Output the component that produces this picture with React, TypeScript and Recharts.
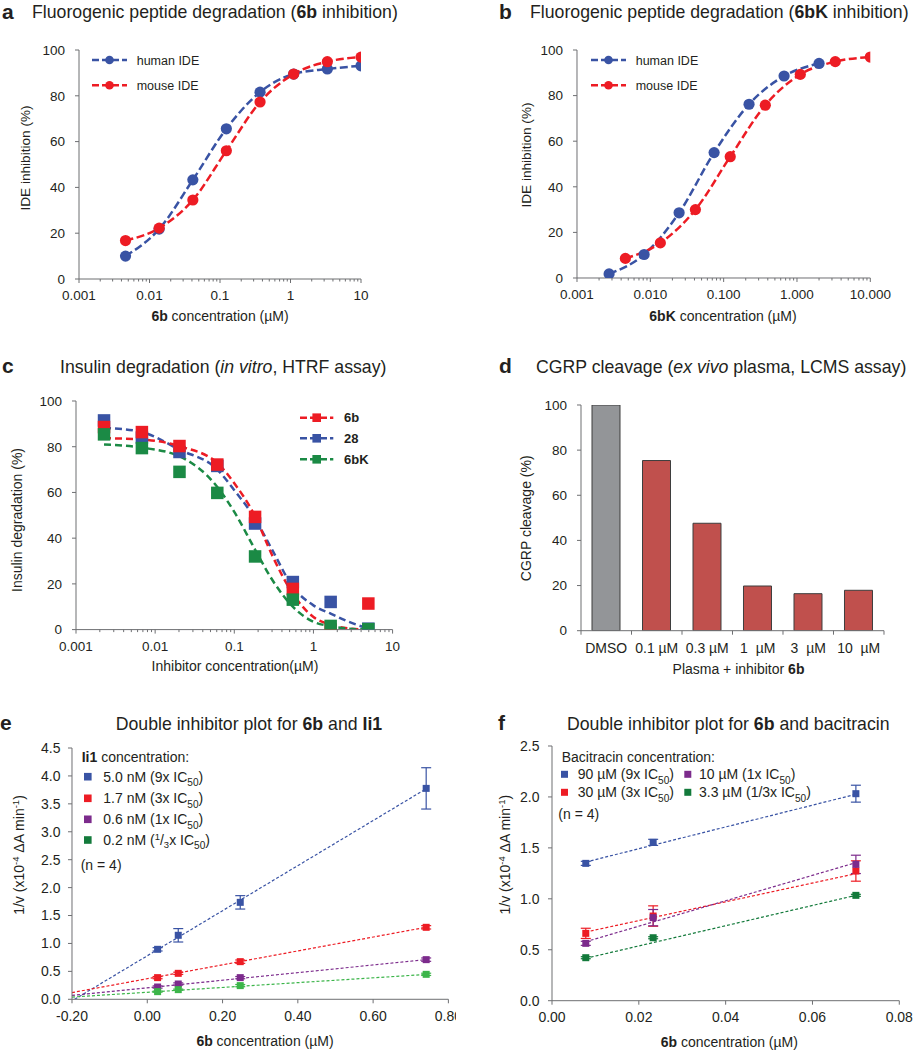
import React from 'react';
import { ComposedChart, BarChart, Bar, Line, Scatter, XAxis, YAxis, ErrorBar, Cell } from 'recharts';

const FONT = "'Liberation Sans', Arial, Helvetica, sans-serif";
const TEXT = '#231f20';
const AXIS = '#6d6e71';
const BLUE = '#3953a4';
const RED = '#ed1c24';
const GREEN = '#1b8a45';
const PURPLE = '#7c2b8c';
const BRIGHT_GREEN = '#3cb54a';
const DARK_GREEN = '#137a3b';
const BAR_GRAY = '#939598';
const BAR_RED = '#c0504d';
const BAR_EDGE = '#3d3d3d';

// ---------- Panel a: 6b inhibition of fluorogenic peptide degradation
const A_CONC = [0.00457, 0.0137, 0.0412, 0.123, 0.37, 1.11, 3.33, 10];
const A_HUMAN = [10, 21.8, 43.3, 65.6, 81.6, 89.5, 91.7, 93.1];
const A_MOUSE = [16.8, 22.2, 34.5, 56, 77.3, 89.5, 94.9, 96.9];

// ---------- Panel b: 6bK inhibition
const B_HUMAN_CONC = [0.00274, 0.00823, 0.0247, 0.0741, 0.222, 0.667, 2.0];
const B_HUMAN = [1.8, 10.3, 28.6, 55, 76.2, 88.6, 94.1];
const B_MOUSE_CONC = [0.00457, 0.0137, 0.0412, 0.123, 0.37, 1.11, 3.33, 10];
const B_MOUSE = [8.6, 15.4, 30, 53.2, 75.8, 89.3, 94.9, 96.9];

// ---------- Panel c: insulin degradation
const C_CONC = [0.00226, 0.0068, 0.0203, 0.061, 0.183, 0.549, 1.65, 4.94];
const C_6B = [88.6, 86.4, 80.3, 72.2, 49.3, 17.8, 0, 11.4];
const C_28 = [91.5, 84, 77.7, 71.6, 46.4, 20.8, 12.1, 0.4];
const C_6BK = [85.4, 79.4, 69, 59.8, 32, 13.1, 1.6, 0.2];
const C_FIT_CONC = [0.00226, 0.0068, 0.0203, 0.061, 0.1, 0.183, 0.3, 0.549, 1, 1.65, 2.8, 4.94];
const C_FIT_6B = [83.7, 83.2, 80.2, 72.9, 64, 49.6, 32.6, 15.7, 5.5, 2.2, 0.5, 0];
const C_FIT_28 = [88.3, 86.4, 78.7, 70, 61, 48.5, 35, 18.7, 10.6, 7, 3.4, 0.4];
const C_FIT_6BK = [81, 79.6, 75.8, 62.4, 51.5, 35, 21.9, 10, 3.4, 1.5, 0.4, 0];

// ---------- Panel d: CGRP cleavage
const D_CATEGORIES = ['DMSO', '0.1 µM', '0.3 µM', '1\u00a0\u00a0µM', '3\u00a0\u00a0µM', '10\u00a0\u00a0µM'];
const D_VALUES = [100, 75.4, 47.6, 19.8, 16.4, 17.9];

// ---------- Panel e: 6b + Ii1
const E_CONC = [0.0274, 0.0823, 0.247, 0.741];
const E_BLUE = [0.895, 1.146, 1.736, 3.777];
const E_BLUE_ERR = [0.03, 0.12, 0.12, 0.37];
const E_RED = [0.388, 0.465, 0.674, 1.289];
const E_RED_ERR = [0.02, 0.02, 0.03, 0.03];
const E_PURPLE = [0.22, 0.274, 0.388, 0.71];
const E_PURPLE_ERR = [0.02, 0.02, 0.02, 0.03];
const E_GREEN = [0.137, 0.173, 0.245, 0.447];
const E_GREEN_ERR = [0.01, 0.01, 0.02, 0.02];
const E_FIT_BLUE_X = [-0.193, 0.741];
const E_FIT_BLUE_Y = [0.0, 3.77];
const E_FIT_X = [-0.2, 0.741];
const E_FIT_RED_Y = [0.12, 1.29];
const E_FIT_PURPLE_Y = [0.07, 0.71];
const E_FIT_GREEN_Y = [0.04, 0.445];
const E_XTICKS = [-0.2, 0, 0.2, 0.4, 0.6, 0.8];
const E_YTICKS = [0, 0.5, 1, 1.5, 2, 2.5, 3, 3.5, 4, 4.5];

// ---------- Panel f: 6b + bacitracin
const F_CONC = [0.00778, 0.0233, 0.07];
const F_BLUE = [1.348, 1.554, 2.032];
const F_BLUE_ERR = [0.02, 0.03, 0.083];
const F_RED = [0.661, 0.831, 1.273];
const F_RED_ERR = [0.05, 0.1, 0.1];
const F_PURPLE = [0.563, 0.815, 1.338];
const F_PURPLE_ERR = [0.02, 0.08, 0.09];
const F_GREEN = [0.422, 0.618, 1.034];
const F_GREEN_ERR = [0.01, 0.01, 0.01];
const F_FIT_X = [0.00778, 0.07];
const F_FIT_BLUE = [1.361, 2.026];
const F_FIT_RED = [0.674, 1.247];
const F_FIT_PURPLE = [0.579, 1.355];
const F_FIT_GREEN = [0.416, 1.034];
const F_XTICKS = [0, 0.02, 0.04, 0.06, 0.08];
const F_YTICKS = [0, 0.5, 1, 1.5, 2, 2.5];

const PCT_TICKS = [0, 20, 40, 60, 80, 100];
const LOG_DECADES = [-3, -2, -1, 0];
const LOG_MULTS = [1, 2, 3, 4, 5, 6, 7, 8, 9];
const LOG_TICKS: number[] = [];
LOG_DECADES.forEach((d) => LOG_MULTS.forEach((m) => LOG_TICKS.push(Number((m * Math.pow(10, d)).toPrecision(6)))));
LOG_TICKS.push(10);

const pts = (xs: number[], ys: number[], errs?: number[]) =>
  xs.map((x, i) => ({ x, y: ys[i], err: errs ? errs[i] : 0 }));

const isDecade = (v: number) => Math.abs(Math.log10(v) - Math.round(Math.log10(v))) < 1e-6;

// ---------- geometry helpers
type Geo = { x0: number; y0: number; x1: number; y1: number; right: number };
const YW = 50;
const XH = 44;
const MT = 14;
const dims = (g: Geo) => ({
  left: g.x0 - YW,
  top: g.y0 - MT,
  width: g.x1 + g.right - (g.x0 - YW),
  height: g.y1 + XH - (g.y0 - MT),
  margin: { top: MT, right: g.right, bottom: 0, left: 0 },
});

const A_GEO: Geo = { x0: 79, y0: 50, x1: 361, y1: 279, right: 30 };
const B_GEO: Geo = { x0: 576.7, y0: 50, x1: 870, y1: 278, right: 35 };
const C_GEO: Geo = { x0: 75.7, y0: 400.7, x1: 392.3, y1: 629.3, right: 30 };
const D_GEO: Geo = { x0: 580.7, y0: 405.3, x1: 883.7, y1: 631, right: 25 };
const E_GEO: Geo = { x0: 72.3, y0: 748, x1: 448.7, y1: 999.3, right: 7.3 };
const F_GEO: Geo = { x0: 552, y0: 746, x1: 899.3, y1: 1000.7, right: 13.7 };

const makeXTick = (
  fmt: (v: number) => string,
  fontSize: number,
  labelDy: number,
  isMajor: (v: number) => boolean = () => true,
  majorLen = 4,
  minorLen = 2.5
) => (props: any) => {
  const { x, y, payload } = props;
  const v = payload.value;
  const major = isMajor(v);
  return (
    <g>
      <line x1={x} x2={x} y1={y} y2={y + (major ? majorLen : minorLen)} stroke={AXIS} strokeWidth={1} />
      {major && (
        <text x={x} y={y + labelDy} textAnchor="middle" fontSize={fontSize} fill={TEXT} fontFamily={FONT}>
          {fmt(v)}
        </text>
      )}
    </g>
  );
};

const square = (size: number, color: string) => (p: any) => {
  const cx = p.cx ?? (p.x ?? 0) + (p.width ?? 0) / 2;
  const cy = p.cy ?? (p.y ?? 0) + (p.height ?? 0) / 2;
  return <rect x={cx - size / 2} y={cy - size / 2} width={size} height={size} fill={color} />;
};

const yAxisProps = (fontSize: number, margin: number) => ({
  type: 'number' as const,
  width: YW,
  tickSize: 4,
  tickMargin: margin,
  interval: 0 as const,
  allowDataOverflow: true,
  axisLine: { stroke: AXIS },
  tickLine: { stroke: AXIS },
  tick: { fontSize, fill: TEXT, fontFamily: FONT },
});

const xAxisBase = {
  dataKey: 'x',
  type: 'number' as const,
  interval: 0 as const,
  allowDataOverflow: true,
  height: XH,
  tickLine: false,
  tickSize: 0,
  tickMargin: 0,
  axisLine: { stroke: AXIS },
};

// ---------- panels
function DoseCirclePanel({ geo, human, mouse, fmt }: any) {
  const d = dims(geo);
  return (
    <div style={{ position: 'absolute', left: d.left, top: d.top }}>
      <ComposedChart width={d.width} height={d.height} margin={d.margin}>
        <XAxis {...xAxisBase} scale="log" domain={[0.001, 10]} ticks={LOG_TICKS} tick={makeXTick(fmt, 13.5, 20.9, isDecade)} />
        <YAxis {...yAxisProps(13.5, 10)} domain={[0, 100]} ticks={PCT_TICKS} />
        <Line data={human} dataKey="y" type="monotone" stroke={BLUE} strokeWidth={2.5} strokeDasharray="8 3.5"
          dot={{ r: 5.6, fill: BLUE, stroke: 'none' }} activeDot={false} isAnimationActive={false} />
        <Line data={mouse} dataKey="y" type="monotone" stroke={RED} strokeWidth={2.5} strokeDasharray="8 3.5"
          dot={{ r: 5.6, fill: RED, stroke: 'none' }} activeDot={false} isAnimationActive={false} />
      </ComposedChart>
    </div>
  );
}

function PanelC() {
  const d = dims(C_GEO);
  const series = [
    { fit: C_FIT_28, pts: C_28, color: BLUE },
    { fit: C_FIT_6B, pts: C_6B, color: RED },
    { fit: C_FIT_6BK, pts: C_6BK, color: GREEN },
  ];
  return (
    <div style={{ position: 'absolute', left: d.left, top: d.top }}>
      <ComposedChart width={d.width} height={d.height} margin={d.margin}>
        <XAxis {...xAxisBase} scale="log" domain={[0.001, 10]} ticks={LOG_TICKS}
          tick={makeXTick((v) => String(v), 13.5, 21.2, isDecade)} />
        <YAxis {...yAxisProps(13.5, 10)} domain={[0, 100]} ticks={PCT_TICKS} />
        {series.map((s, i) => (
          <Line key={'l' + i} data={pts(C_FIT_CONC, s.fit)} dataKey="y" type="monotone" stroke={s.color}
            strokeWidth={2.5} strokeDasharray="7 4" dot={false} activeDot={false} isAnimationActive={false} />
        ))}
        {series.map((s, i) => (
          <Scatter key={'s' + i} data={pts(C_CONC, s.pts)} dataKey="y" fill={s.color}
            shape={square(12.5, s.color)} isAnimationActive={false} />
        ))}
      </ComposedChart>
    </div>
  );
}

function PanelD() {
  const d = dims(D_GEO);
  const data = D_CATEGORIES.map((name, i) => ({ name, v: D_VALUES[i] }));
  const band = (D_GEO.x1 - D_GEO.x0) / D_CATEGORIES.length;
  const tick = (props: any) => {
    const { x, y, payload, index } = props;
    return (
      <g>
        <line x1={x - band / 2} x2={x - band / 2} y1={y} y2={y + 4} stroke={AXIS} />
        {index === D_CATEGORIES.length - 1 && <line x1={x + band / 2} x2={x + band / 2} y1={y} y2={y + 4} stroke={AXIS} />}
        <text x={x} y={y + 21.9} textAnchor="middle" fontSize={14} fill={TEXT} fontFamily={FONT}>
          {payload.value}
        </text>
      </g>
    );
  };
  return (
    <div style={{ position: 'absolute', left: d.left, top: d.top }}>
      <BarChart width={d.width} height={d.height} margin={d.margin} data={data}>
        <XAxis dataKey="name" type="category" interval={0} height={XH} tickLine={false} tickSize={0} tickMargin={0}
          axisLine={{ stroke: AXIS }} tick={tick} />
        <YAxis {...yAxisProps(13.5, 10)} domain={[0, 100]} ticks={PCT_TICKS} />
        <Bar dataKey="v" barSize={28} stroke={BAR_EDGE} strokeWidth={1} isAnimationActive={false}>
          {data.map((_, i) => (
            <Cell key={i} fill={i === 0 ? BAR_GRAY : BAR_RED} />
          ))}
        </Bar>
      </BarChart>
    </div>
  );
}

function InhibitorPanel({ geo, xDomain, xTicks, yDomain, yTicks, yMargin, series, markerSize }: any) {
  const d = dims(geo);
  return (
    <div style={{ position: 'absolute', left: d.left, top: d.top }}>
      <ComposedChart width={d.width} height={d.height} margin={d.margin}>
        <XAxis {...xAxisBase} domain={xDomain} ticks={xTicks} tick={makeXTick((v) => v.toFixed(2), 14, 21.6)} />
        <YAxis {...yAxisProps(14, yMargin)} domain={yDomain} ticks={yTicks} tickFormatter={(v: number) => v.toFixed(1)} />
        {series.map((s: any, i: number) => (
          <Line key={'l' + i} data={s.fit} dataKey="y" type="linear" stroke={s.lineColor} strokeWidth={1.2}
            strokeDasharray="3 2" dot={false} activeDot={false} isAnimationActive={false} />
        ))}
        {series.map((s: any, i: number) => (
          <Scatter key={'s' + i} data={s.points} dataKey="y" fill={s.color} shape={square(markerSize, s.color)}
            isAnimationActive={false}>
            <ErrorBar dataKey="err" direction="y" width={5} stroke={s.color} strokeWidth={1.2} />
          </Scatter>
        ))}
      </ComposedChart>
    </div>
  );
}

const E_SERIES = [
  { points: pts(E_CONC, E_BLUE, E_BLUE_ERR), fit: pts(E_FIT_BLUE_X, E_FIT_BLUE_Y), color: BLUE, lineColor: BLUE },
  { points: pts(E_CONC, E_RED, E_RED_ERR), fit: pts(E_FIT_X, E_FIT_RED_Y), color: RED, lineColor: RED },
  { points: pts(E_CONC, E_PURPLE, E_PURPLE_ERR), fit: pts(E_FIT_X, E_FIT_PURPLE_Y), color: PURPLE, lineColor: PURPLE },
  { points: pts(E_CONC, E_GREEN, E_GREEN_ERR), fit: pts(E_FIT_X, E_FIT_GREEN_Y), color: BRIGHT_GREEN, lineColor: BRIGHT_GREEN },
];
const F_SERIES = [
  { points: pts(F_CONC, F_BLUE, F_BLUE_ERR), fit: pts(F_FIT_X, F_FIT_BLUE), color: BLUE, lineColor: BLUE },
  { points: pts(F_CONC, F_RED, F_RED_ERR), fit: pts(F_FIT_X, F_FIT_RED), color: RED, lineColor: RED },
  { points: pts(F_CONC, F_PURPLE, F_PURPLE_ERR), fit: pts(F_FIT_X, F_FIT_PURPLE), color: PURPLE, lineColor: PURPLE },
  { points: pts(F_CONC, F_GREEN, F_GREEN_ERR), fit: pts(F_FIT_X, F_FIT_GREEN), color: DARK_GREEN, lineColor: DARK_GREEN },
];

// ---------- overlay text (titles, axis labels, legends)
const IC50 = ({ fs }: { fs: number }) => (
  <>
    <tspan>IC</tspan>
    <tspan fontSize={fs * 0.72} dy={fs * 0.3}>50</tspan>
    <tspan dy={-fs * 0.3}>)</tspan>
  </>
);

const YLabel = ({ cx, cy, fs, children }: any) => {
  const bx = cx + fs * 0.35;
  return (
    <text x={bx} y={cy} transform={`rotate(-90, ${bx}, ${cy})`} textAnchor="middle" fontSize={fs} fill={TEXT}>
      {children}
    </text>
  );
};

const RateLabel = () => (
  <>
    <tspan>1/v (x10</tspan>
    <tspan fontSize={9.5} dy={-5}>-4</tspan>
    <tspan dy={5}> ΔA min</tspan>
    <tspan fontSize={9.5} dy={-5}>-1</tspan>
    <tspan dy={5}>)</tspan>
  </>
);

const CIRCLE_LEGEND = [
  { label: 'human IDE', color: BLUE },
  { label: 'mouse IDE', color: RED },
];
const C_LEGEND = [
  { label: '6b', color: RED },
  { label: '28', color: BLUE },
  { label: '6bK', color: GREEN },
];

function CircleLegend({ x, y }: { x: number; y: number }) {
  return (
    <g>
      {CIRCLE_LEGEND.map((it, i) => {
        const yy = y + i * 25.3;
        return (
          <g key={i}>
            <line x1={x} x2={x + 35} y1={yy} y2={yy} stroke={it.color} strokeWidth={2.5} strokeDasharray="7 3" />
            <circle cx={x + 17.5} cy={yy} r={4.3} fill={it.color} />
            <text x={x + 44.7} y={yy + 4.5} fontSize={12.5} fill={TEXT}>{it.label}</text>
          </g>
        );
      })}
    </g>
  );
}

function Overlay() {
  const T = { fontSize: 17.7, fill: TEXT };
  const L = { fontSize: 21, fontWeight: 'bold' as const, fill: TEXT };
  return (
    <svg width={913} height={1050} style={{ position: 'absolute', left: 0, top: 0, pointerEvents: 'none' }}
      fontFamily={FONT}>
      {/* titles */}
      <text x={2} y={19} {...L}>a</text>
      <text x={32} y={18.3} {...T}>Fluorogenic peptide degradation (<tspan fontWeight="bold">6b</tspan> inhibition)</text>
      <text x={499} y={19} {...L}>b</text>
      <text x={530} y={18.3} {...T}>Fluorogenic peptide degradation (<tspan fontWeight="bold">6bK</tspan> inhibition)</text>
      <text x={2} y={373.3} {...L}>c</text>
      <text x={60} y={373.3} {...T}>Insulin degradation (<tspan fontStyle="italic">in vitro</tspan>, HTRF assay)</text>
      <text x={499} y={373.3} {...L}>d</text>
      <text x={536} y={373.3} {...T}>CGRP cleavage (<tspan fontStyle="italic">ex vivo</tspan> plasma, LCMS assay)</text>
      <text x={0} y={730} {...L}>e</text>
      <text x={115.7} y={730} {...T}>Double inhibitor plot for <tspan fontWeight="bold">6b</tspan> and <tspan fontWeight="bold">Ii1</tspan></text>
      <text x={498} y={730} {...L}>f</text>
      <text x={567} y={730} {...T}>Double inhibitor plot for <tspan fontWeight="bold">6b</tspan> and bacitracin</text>

      {/* x-axis labels */}
      <text x={220} y={321} textAnchor="middle" fontSize={14} fill={TEXT}><tspan fontWeight="bold">6b</tspan> concentration (µM)</text>
      <text x={723} y={321} textAnchor="middle" fontSize={14} fill={TEXT}><tspan fontWeight="bold">6bK</tspan> concentration (µM)</text>
      <text x={235} y={670.7} textAnchor="middle" fontSize={14} fill={TEXT}>Inhibitor concentration(µM)</text>
      <text x={738.5} y={674} textAnchor="middle" fontSize={14} fill={TEXT}>Plasma + inhibitor <tspan fontWeight="bold">6b</tspan></text>
      <text x={265} y={1046} textAnchor="middle" fontSize={14} fill={TEXT}><tspan fontWeight="bold">6b</tspan> concentration (µM)</text>
      <text x={729.3} y={1046.5} textAnchor="middle" fontSize={14} fill={TEXT}><tspan fontWeight="bold">6b</tspan> concentration (µM)</text>

      {/* y-axis labels */}
      <YLabel cx={25} cy={158} fs={13.6}>IDE inhibition (%)</YLabel>
      <YLabel cx={526.7} cy={155} fs={13.6}>IDE inhibition (%)</YLabel>
      <YLabel cx={17.3} cy={520} fs={14}>Insulin degradation (%)</YLabel>
      <YLabel cx={526} cy={518.3} fs={14}>CGRP cleavage (%)</YLabel>
      <YLabel cx={19.3} cy={855} fs={14}><RateLabel /></YLabel>
      <YLabel cx={505.3} cy={854.7} fs={14}><RateLabel /></YLabel>

      {/* legends a, b */}
      <CircleLegend x={92} y={60} />
      <CircleLegend x={591} y={60} />

      {/* legend c */}
      {C_LEGEND.map((it, i) => {
        const yy = [417.7, 438.3, 459.3][i];
        return (
          <g key={i}>
            <line x1={300} x2={333.3} y1={yy} y2={yy} stroke={it.color} strokeWidth={2.5} strokeDasharray="7 3" />
            <rect x={316.7 - 4.3} y={yy - 4.3} width={8.6} height={8.6} fill={it.color} />
            <text x={344} y={yy + 4.7} fontSize={13} fontWeight="bold" fill={TEXT}>{it.label}</text>
          </g>
        );
      })}

      {/* legend e */}
      <text x={81.7} y={762.3} fontSize={14} fill={TEXT}><tspan fontWeight="bold">Ii1</tspan> concentration:</text>
      {[BLUE, RED, PURPLE, DARK_GREEN].map((c, i) => {
        const yy = [776.7, 798.3, 819.3, 840][i];
        return <rect key={i} x={84} y={yy - 3.8} width={7.6} height={7.6} fill={c} />;
      })}
      <text x={103.3} y={781.7} fontSize={14} fill={TEXT}>5.0 nM (9x <IC50 fs={14} /></text>
      <text x={103.3} y={803.3} fontSize={14} fill={TEXT}>1.7 nM (3x <IC50 fs={14} /></text>
      <text x={103.3} y={824.3} fontSize={14} fill={TEXT}>0.6 nM (1x <IC50 fs={14} /></text>
      <text x={103.3} y={845} fontSize={14} fill={TEXT}>
        0.2 nM (<tspan fontSize={9.5} dy={-5}>1</tspan><tspan dy={5}>/</tspan><tspan fontSize={9.5} dy={3}>3</tspan><tspan dy={-3}>x </tspan><IC50 fs={14} />
      </text>
      <text x={80.7} y={870} fontSize={14} fill={TEXT}>(n = 4)</text>

      {/* legend f */}
      <text x={561.7} y={761.7} fontSize={14} fill={TEXT}>Bacitracin concentration:</text>
      <rect x={561} y={774.3 - 3.5} width={7} height={7} fill={BLUE} />
      <text x={577.7} y={779.3} fontSize={14} fill={TEXT}>90 µM (9x <IC50 fs={14} /></text>
      <rect x={684.3} y={774.3 - 3.5} width={7} height={7} fill={PURPLE} />
      <text x={699} y={779.3} fontSize={14} fill={TEXT}>10 µM (1x <IC50 fs={14} /></text>
      <rect x={561} y={792.3 - 3.5} width={7} height={7} fill={RED} />
      <text x={577.7} y={797.3} fontSize={14} fill={TEXT}>30 µM (3x <IC50 fs={14} /></text>
      <rect x={684.3} y={792.3 - 3.5} width={7} height={7} fill={DARK_GREEN} />
      <text x={699} y={797.3} fontSize={14} fill={TEXT}>3.3 µM (1/3x <IC50 fs={14} /></text>
      <text x={558.3} y={819} fontSize={14} fill={TEXT}>(n = 4)</text>
    </svg>
  );
}

export default function App() {
  return (
    <div style={{ position: 'absolute', left: 0, top: 0, width: 913, height: 1050, overflow: 'hidden', background: '#fff', fontFamily: FONT }}>
      <DoseCirclePanel geo={A_GEO} human={pts(A_CONC, A_HUMAN)} mouse={pts(A_CONC, A_MOUSE)} fmt={(v: number) => String(v)} />
      <DoseCirclePanel geo={B_GEO} human={pts(B_HUMAN_CONC, B_HUMAN)} mouse={pts(B_MOUSE_CONC, B_MOUSE)} fmt={(v: number) => v.toFixed(3)} />
      <PanelC />
      <PanelD />
      <InhibitorPanel geo={E_GEO} xDomain={[-0.2, 0.8]} xTicks={E_XTICKS} yDomain={[0, 4.5]} yTicks={E_YTICKS}
        yMargin={7.5} series={E_SERIES} markerSize={7} />
      <InhibitorPanel geo={F_GEO} xDomain={[0, 0.08]} xTicks={F_XTICKS} yDomain={[0, 2.5]} yTicks={F_YTICKS}
        yMargin={8.5} series={F_SERIES} markerSize={7} />
      <Overlay />
    </div>
  );
}
